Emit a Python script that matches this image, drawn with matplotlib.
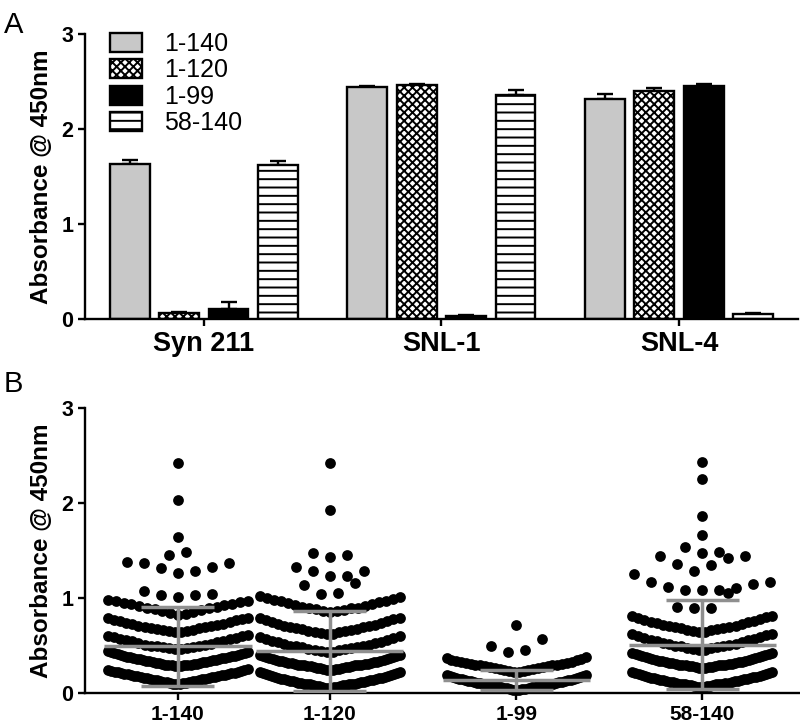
import numpy as np
import matplotlib
matplotlib.use("Agg")
import matplotlib.pyplot as plt

plt.rcParams['font.family'] = ['Liberation Sans', 'DejaVu Sans']
plt.rcParams['hatch.linewidth'] = 1.4
plt.rcParams['hatch.color'] = 'black'

# ---------------- Panel A data ----------------
antibodies = ["Syn 211", "SNL-1", "SNL-4"]
constructs = ["1-140", "1-120", "1-99", "58-140"]
abs_1_140 = [1.63, 2.445, 2.315]
abs_1_120 = [0.065, 2.46, 2.40]
abs_1_99 = [0.11, 0.03, 2.45]
abs_58_140 = [1.62, 2.36, 0.05]
err_1_140 = [0.04, 0.008, 0.05]
err_1_120 = [0.012, 0.01, 0.03]
err_1_99 = [0.07, 0.008, 0.02]
err_58_140 = [0.04, 0.05, 0.008]

# ---------------- Panel B data ----------------
groups_b = ["1-140", "1-120", "1-99", "58-140"]
vals_1_140 = [
    0.10, 0.10, 0.10, 0.11, 0.11, 0.11, 0.12, 0.12, 0.12, 0.13, 0.13, 0.13, 0.14, 0.14,
    0.14, 0.15, 0.15, 0.15, 0.16, 0.16, 0.16, 0.17, 0.17, 0.17, 0.18, 0.18, 0.18, 0.19,
    0.19, 0.19, 0.20, 0.20, 0.20, 0.21, 0.21, 0.21, 0.22, 0.22, 0.22, 0.23, 0.23, 0.24,
    0.24, 0.25,
    0.28, 0.28, 0.28, 0.29, 0.29, 0.29, 0.30, 0.30, 0.30, 0.31, 0.31, 0.31, 0.32, 0.32,
    0.32, 0.33, 0.33, 0.33, 0.34, 0.34, 0.34, 0.35, 0.35, 0.35, 0.36, 0.36, 0.36, 0.37,
    0.37, 0.37, 0.38, 0.38, 0.38, 0.39, 0.39, 0.39, 0.40, 0.40, 0.41, 0.41, 0.42, 0.42,
    0.43, 0.43, 0.44,
    0.46, 0.46, 0.47, 0.47, 0.48, 0.48, 0.49, 0.50, 0.50, 0.51, 0.51, 0.52, 0.53,
    0.54, 0.55, 0.55, 0.56, 0.57, 0.57, 0.58, 0.59, 0.60, 0.60, 0.61,
    0.64, 0.64, 0.65, 0.65, 0.66, 0.66, 0.67, 0.68, 0.68, 0.69, 0.70, 0.71,
    0.71, 0.72, 0.73, 0.73, 0.74, 0.75, 0.76, 0.77, 0.77, 0.78, 0.79, 0.79,
    0.82, 0.83, 0.84, 0.85, 0.86, 0.87, 0.88, 0.89, 0.90, 0.91, 0.92, 0.93,
    0.94, 0.94, 0.95, 0.96, 0.97, 0.97, 0.98,
    1.01, 1.03, 1.03, 1.04, 1.07,
    1.26, 1.29, 1.32, 1.33, 1.37, 1.37, 1.38,
    1.45, 1.49, 1.64, 2.03, 2.42]
vals_1_120 = [
    0.05, 0.05, 0.05, 0.06, 0.06, 0.06, 0.07, 0.07, 0.07, 0.08, 0.08, 0.08, 0.09, 0.09,
    0.09, 0.10, 0.10, 0.10, 0.11, 0.11, 0.11, 0.12, 0.12, 0.12, 0.13, 0.13, 0.13, 0.14,
    0.14, 0.14, 0.15, 0.15, 0.15, 0.16, 0.16, 0.16, 0.17, 0.17, 0.18, 0.18, 0.19, 0.19,
    0.20, 0.20, 0.21, 0.21, 0.22, 0.22,
    0.24, 0.24, 0.24, 0.25, 0.25, 0.25, 0.26, 0.26, 0.26, 0.27, 0.27, 0.27, 0.28, 0.28,
    0.28, 0.29, 0.29, 0.29, 0.30, 0.30, 0.30, 0.31, 0.31, 0.31, 0.32, 0.32, 0.32, 0.33,
    0.33, 0.33, 0.34, 0.34, 0.34, 0.35, 0.35, 0.36, 0.36, 0.37, 0.37, 0.38, 0.38, 0.39,
    0.39, 0.40, 0.40,
    0.43, 0.43, 0.44, 0.45, 0.45, 0.46, 0.46, 0.47, 0.48, 0.48, 0.49, 0.50,
    0.50, 0.51, 0.52, 0.53, 0.54, 0.54, 0.55, 0.56, 0.57, 0.58, 0.59, 0.60,
    0.62, 0.62, 0.63, 0.64, 0.64, 0.65, 0.65, 0.66, 0.67, 0.67, 0.68, 0.69,
    0.70, 0.71, 0.71, 0.72, 0.73, 0.74, 0.75, 0.76, 0.77, 0.78, 0.79, 0.79,
    0.85, 0.86, 0.86, 0.87, 0.88, 0.89, 0.90, 0.90, 0.91, 0.92, 0.93,
    0.94, 0.95, 0.96, 0.97, 0.97, 0.98, 0.99, 1.00, 1.01, 1.02,
    1.04, 1.05, 1.14, 1.16,
    1.23, 1.23, 1.28, 1.28, 1.33,
    1.43, 1.45, 1.47, 1.93, 2.42]
vals_1_99 = [
    0.03, 0.03, 0.03, 0.04, 0.04, 0.04, 0.05, 0.05, 0.05, 0.06, 0.06, 0.06, 0.07, 0.07,
    0.07, 0.08, 0.08, 0.08, 0.09, 0.09, 0.09, 0.10, 0.10, 0.10, 0.11, 0.11, 0.11, 0.12,
    0.12, 0.12, 0.13, 0.13, 0.13, 0.14, 0.14, 0.14, 0.15, 0.15, 0.15, 0.16, 0.16, 0.17,
    0.17, 0.18, 0.18, 0.19, 0.19,
    0.22, 0.22, 0.23, 0.23, 0.24, 0.24, 0.25, 0.25, 0.26, 0.26, 0.27, 0.27, 0.28, 0.28,
    0.29, 0.29, 0.30, 0.30, 0.31, 0.31, 0.32, 0.32, 0.33, 0.33, 0.34, 0.35, 0.35, 0.36,
    0.37, 0.38,
    0.43, 0.45, 0.49, 0.565, 0.72]
vals_58_140 = [
    0.06, 0.06, 0.06, 0.07, 0.07, 0.07, 0.08, 0.08, 0.08, 0.09, 0.09, 0.09, 0.10, 0.10,
    0.10, 0.11, 0.11, 0.11, 0.12, 0.12, 0.12, 0.13, 0.13, 0.13, 0.14, 0.14, 0.14, 0.15,
    0.15, 0.15, 0.16, 0.16, 0.16, 0.17, 0.17, 0.17, 0.18, 0.18, 0.19, 0.19, 0.20, 0.20,
    0.21, 0.21, 0.22, 0.22,
    0.26, 0.26, 0.26, 0.27, 0.27, 0.27, 0.28, 0.28, 0.28, 0.29, 0.29, 0.29, 0.30, 0.30,
    0.30, 0.31, 0.31, 0.31, 0.32, 0.32, 0.32, 0.33, 0.33, 0.33, 0.34, 0.34, 0.34, 0.35,
    0.35, 0.36, 0.36, 0.37, 0.37, 0.38, 0.38, 0.39, 0.39, 0.40, 0.40, 0.41, 0.41, 0.42,
    0.42,
    0.45, 0.45, 0.46, 0.47, 0.47, 0.48, 0.49, 0.49, 0.50, 0.51, 0.52,
    0.52, 0.53, 0.54, 0.55, 0.56, 0.56, 0.57, 0.58, 0.59, 0.60, 0.61, 0.62, 0.62,
    0.64, 0.64, 0.65, 0.66, 0.66, 0.67, 0.68, 0.68, 0.69, 0.70, 0.71,
    0.71, 0.72, 0.73, 0.74, 0.75, 0.75, 0.76, 0.77, 0.78, 0.79, 0.80, 0.81, 0.81,
    0.89, 0.90, 0.91, 1.05,
    1.08, 1.08, 1.09, 1.11, 1.12, 1.15, 1.17, 1.17, 1.25,
    1.28, 1.35, 1.36, 1.42, 1.44, 1.44,
    1.47, 1.48, 1.54, 1.66, 1.86, 2.25, 2.43]
means_b = [0.49, 0.445, 0.14, 0.51]
sds_b = [0.42, 0.42, 0.105, 0.47]

GRAY = '#8f8f8f'
LBL = dict(fontsize=17.5, fontweight='bold')


def swarm(vals, h=0.18, step=0.112, half=0.46):
    v = np.sort(np.asarray(vals, dtype=float))
    xs = np.zeros_like(v)
    i = 0
    while i < len(v):
        j = i
        while j < len(v) and v[j] < v[i] + h - 1e-9:
            j += 1
        n = j - i
        d = step if n <= 1 else min(step, 2 * half / (n - 1))
        ranks = []
        if n % 2:
            ranks.append(0.0)
            k = 1
            while len(ranks) < n:
                ranks.append(k)
                if len(ranks) < n:
                    ranks.append(-k)
                k += 1
        else:
            k = 0.5
            while len(ranks) < n:
                ranks.append(-k)
                ranks.append(k)
                k += 1
        xs[i:j] = np.array(ranks[:n]) * d
        i = j
    return v, xs


def style_axes(ax, xsize=15, ysize=15):
    for s in ['top', 'right']:
        ax.spines[s].set_visible(False)
    for s in ['left', 'bottom']:
        ax.spines[s].set_linewidth(1.7)
    ax.tick_params(axis='both', width=1.7, length=5, direction='out')
    for lab in ax.get_yticklabels():
        lab.set_fontweight('bold')
        lab.set_fontsize(ysize)
    for lab in ax.get_xticklabels():
        lab.set_fontweight('bold')
        lab.set_fontsize(xsize)


fig = plt.figure(figsize=(8, 7.25), dpi=100)

# ---------------- Panel A ----------------
axA = fig.add_axes([0.10625, 0.56, 0.891, 0.393])
x = np.arange(len(antibodies))
bw = 0.168
sp = 0.208
series = [abs_1_140, abs_1_120, abs_1_99, abs_58_140]
errs = [err_1_140, err_1_120, err_1_99, err_58_140]
faces = ['#c8c8c8', 'white', 'black', 'white']
hatches = [None, 'xxxx', None, '--']
handles = []
for k, (vals, e) in enumerate(zip(series, errs)):
    pos = x + (k - 1.5) * sp
    bars = axA.bar(pos, vals, width=bw, color=faces[k], edgecolor='black',
                   linewidth=1.7, hatch=hatches[k], label=constructs[k], zorder=2)
    axA.errorbar(pos, vals, yerr=[np.zeros(len(vals)), e], fmt='none',
                 ecolor='black', elinewidth=1.7, capsize=6, capthick=1.7, zorder=1)
    handles.append(bars)
axA.set_xlim(-0.5, 2.5)
axA.set_ylim(0, 3)
axA.set_yticks([0, 1, 2, 3])
axA.set_xticks(x)
axA.set_xticklabels(antibodies)
axA.set_ylabel("Absorbance @ 450nm", **LBL, labelpad=6)
style_axes(axA, xsize=19.5, ysize=15.5)
axA.legend(handles=handles, loc='upper left', bbox_to_anchor=(0.035, 1.008),
           frameon=False, fontsize=18, handlelength=1.28, handleheight=0.8,
           labelspacing=0.1, handletextpad=0.9, borderpad=0.0, borderaxespad=0.0)
fig.text(0.005, 0.985, "A", fontsize=21, va='top', ha='left')

# ---------------- Panel B ----------------
axB = fig.add_axes([0.10625, 0.0441, 0.8925, 0.393])
positions = [1.0, 2.0, 3.23, 4.454]
for k, vals in enumerate([vals_1_140, vals_1_120, vals_1_99, vals_58_140]):
    v, xs = swarm(vals)
    axB.scatter(positions[k] + xs, v, s=60, c='black', linewidths=0, zorder=2,
                clip_on=False)
    m, sd = means_b[k], sds_b[k]
    lo = max(m - sd, 0.02)
    axB.hlines(m, positions[k] - 0.485, positions[k] + 0.485, color=GRAY, lw=2.5, zorder=3)
    axB.vlines(positions[k], lo, m + sd, color=GRAY, lw=2.5, zorder=3)
    axB.hlines([lo, m + sd], positions[k] - 0.24, positions[k] + 0.24,
               color=GRAY, lw=2.5, zorder=3)
axB.set_xlim(0.388, 5.092)
axB.set_ylim(0, 3)
axB.set_yticks([0, 1, 2, 3])
axB.set_xticks(positions)
axB.set_xticklabels(groups_b)
axB.set_ylabel("Absorbance @ 450nm", **LBL, labelpad=6)
style_axes(axB, xsize=15, ysize=15.5)
fig.text(0.005, 0.49, "B", fontsize=21, va='top', ha='left')

fig.savefig("out.png", dpi=100)
